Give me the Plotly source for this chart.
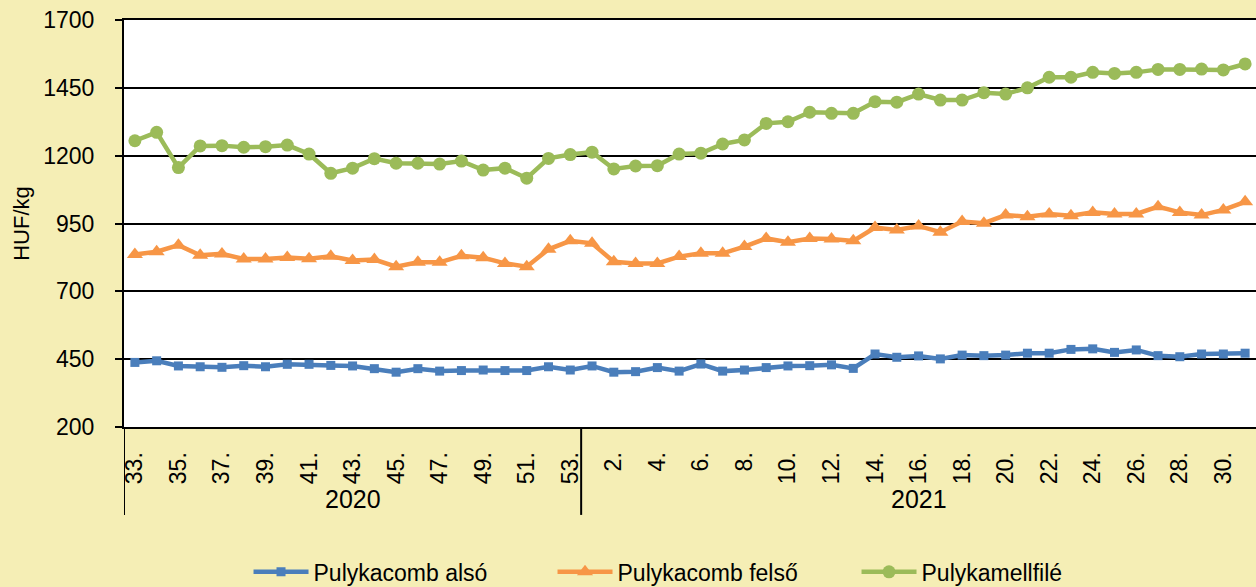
import plotly.graph_objects as go

# weekly turkey prices, HUF/kg
weeks_2020 = list(range(33, 54))
weeks_2021 = list(range(1, 32))

comb_also = [438, 444, 425, 422, 420, 426, 422, 431, 431, 427, 425, 415, 402, 415, 406,
             408, 410, 408, 408, 422, 410,
             425, 402, 404, 419, 406, 432, 406, 410, 419, 425, 426, 429, 416, 469, 457,
             462, 451, 465, 463, 465, 472, 472, 486, 488, 475, 484, 463, 459, 469, 469, 472]
comb_felso = [836, 846, 870, 833, 838, 819, 819, 825, 820, 829, 814, 817, 791, 807, 807,
              831, 824, 803, 791, 855, 886,
              877, 809, 803, 803, 828, 840, 840, 865, 895, 881, 895, 893, 886, 935, 926,
              941, 918, 957, 951, 981, 975, 985, 979, 991, 985, 985, 1012, 991, 981, 1000, 1030]
mellfile = [1255, 1286, 1156, 1236, 1237, 1231, 1233, 1239, 1206, 1135, 1154, 1189, 1172,
            1172, 1169, 1180, 1147, 1154, 1117, 1190, 1204,
            1213, 1151, 1162, 1163, 1206, 1209, 1243, 1258, 1319, 1325, 1360, 1356, 1356,
            1399, 1397, 1427, 1405, 1405, 1432, 1427, 1450, 1489, 1489, 1507, 1503, 1507,
            1518, 1518, 1519, 1516, 1538]

years = ["2020", "2021"]
categories = [f"2020/{w}" for w in weeks_2020] + [f"2021/{w}" for w in weeks_2021]
week_labels = [f"{w}." for w in weeks_2020 + weeks_2021]

FONT = "Liberation Sans, Arial, sans-serif"
BG = "#F5EEB5"

series = [
    ("Pulykacomb alsó", comb_also, "#4A7EBB", "square", 9),
    ("Pulykacomb felső", comb_felso, "#F79646", "triangle-up", 14),
    ("Pulykamellfilé", mellfile, "#9BBB59", "circle", 13),
]

fig = go.Figure()
for name, vals, color, symbol, size in series:
    fig.add_trace(go.Scatter(
        x=categories, y=vals, name=name, mode="lines+markers",
        line=dict(color=color, width=4.5),
        marker=dict(symbol=symbol, size=size, color=color),
        cliponaxis=False,
    ))

fig.update_layout(
    width=1256, height=587,
    paper_bgcolor=BG, plot_bgcolor="white",
    margin=dict(l=124, r=0, t=20, b=160, autoexpand=False),
    font=dict(family=FONT, size=23, color="black"),
    showlegend=True,
    legend=dict(orientation="h", x=0.11, xanchor="left", y=-0.356, yanchor="middle",
                font=dict(size=23), entrywidth=234, itemwidth=55, bgcolor="rgba(0,0,0,0)"),
)

fig.update_yaxes(
    range=[200, 1700], tick0=200, dtick=250, showgrid=True, gridcolor="black", gridwidth=2,
    showline=True, linecolor="black", linewidth=2, automargin=False,
    ticks="outside", ticklen=7, tickwidth=2, tickcolor="black",
    ticklabelstandoff=16, zeroline=False,
    title=dict(text="HUF/kg", font=dict(size=22), standoff=8),
)

tick_idx = list(range(0, len(categories), 2))
fig.update_xaxes(
    type="category", range=[-0.5, len(categories) - 0.5], automargin=False,
    tickmode="array", tickvals=[categories[i] for i in tick_idx],
    ticktext=[week_labels[i] for i in tick_idx],
    tickangle=-90, showgrid=False, showline=True, linecolor="black", linewidth=2,
    mirror=True, ticks="", ticklabelstandoff=14,
)

# year group labels and dividers below the axis
split = len(weeks_2020)
for x in (-0.5, split - 0.5):
    fig.add_shape(type="line", xref="x", yref="paper", x0=x, x1=x, y0=0, y1=-0.216,
                  line=dict(color="black", width=2))
group_centers = [(split - 1) / 2, split + (len(weeks_2021) - 1) / 2]
for yr, cx in zip(years, group_centers):
    fig.add_annotation(x=cx, xref="x", y=-0.177, yref="paper", text=yr, showarrow=False,
                       font=dict(size=25), yanchor="middle")

fig.write_html("out.html", config={"displayModeBar": False},
               post_script="document.body.style.margin='0';document.body.style.overflow='hidden';")
